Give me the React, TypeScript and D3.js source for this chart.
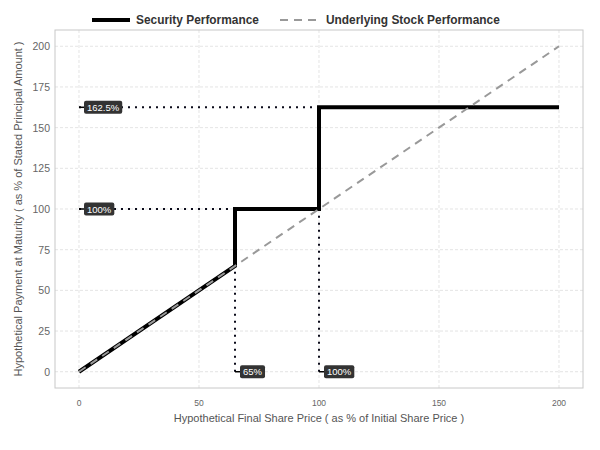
import { useEffect, useRef } from 'react'
import * as d3 from 'd3'

// ── data ─────────────────────────────────────────────────────────────────────
const securityX = [0, 65, 65, 100, 100, 200]
const securityY = [0, 65, 100, 100, 162.5, 162.5]
const stockX = [0, 200]
const stockY = [0, 200]
const xTicks = [0, 50, 100, 150, 200]
const yTicks = [0, 25, 50, 75, 100, 125, 150, 175, 200]
// dotted guides: [x1, y1, x2, y2]
const guides: [number, number, number, number][] = [
  [0, 162.5, 100, 162.5],
  [0, 100, 65, 100],
  [65, 0, 65, 100],
  [100, 0, 100, 162.5],
]
const labelX = [0, 0, 65, 100]
const labelY = [162.5, 100, 0, 0]
const labelText = ['162.5%', '100%', '65%', '100%']

const W = 600, H = 450
const P = { left: 55, right: 583, top: 30, bottom: 388 }
const FONT = '"Liberation Sans", Arial, sans-serif'

export default function App() {
  const ref = useRef<SVGSVGElement>(null)

  useEffect(() => {
    if (!ref.current) return
    const svg = d3.select(ref.current)
    svg.selectAll('*').remove()

    const x = d3.scaleLinear().domain([-10, 210]).range([P.left, P.right])
    const y = d3.scaleLinear().domain([-10, 210]).range([P.bottom, P.top])

    svg.append('rect').attr('width', W).attr('height', H).attr('fill', '#fff')

    // ── grid ──────────────────────────────────────────────────────────────
    const grid = svg.append('g')
    grid.selectAll('line.v').data(xTicks).join('line')
      .attr('x1', d => x(d)).attr('x2', d => x(d))
      .attr('y1', P.top).attr('y2', P.bottom)
      .attr('stroke', '#d8d8d8').attr('stroke-dasharray', '3,2').attr('stroke-width', 0.7)
    grid.selectAll('line.h').data(yTicks).join('line')
      .attr('y1', d => y(d)).attr('y2', d => y(d))
      .attr('x1', P.left).attr('x2', P.right)
      .attr('stroke', '#d8d8d8').attr('stroke-dasharray', '3,2').attr('stroke-width', 0.7)

    svg.append('rect')
      .attr('x', P.left).attr('y', P.top)
      .attr('width', P.right - P.left).attr('height', P.bottom - P.top)
      .attr('fill', 'none').attr('stroke', '#c8c8c8').attr('stroke-width', 1)

    // ── dotted guides ─────────────────────────────────────────────────────
    svg.append('g').selectAll('line').data(guides).join('line')
      .attr('x1', d => x(d[0])).attr('y1', d => y(d[1]))
      .attr('x2', d => x(d[2])).attr('y2', d => y(d[3]))
      .attr('stroke', '#0b0b1a').attr('stroke-width', 2)
      .attr('stroke-dasharray', '2,5')

    // ── lines ─────────────────────────────────────────────────────────────
    const line = d3.line<number>().x(i => x(securityX[i])).y(i => y(securityY[i]))
    svg.append('path').datum(d3.range(securityX.length))
      .attr('d', line).attr('fill', 'none').attr('stroke', '#000')
      .attr('stroke-width', 4).attr('stroke-linejoin', 'miter')

    const sline = d3.line<number>().x(i => x(stockX[i])).y(i => y(stockY[i]))
    svg.append('path').datum(d3.range(stockX.length))
      .attr('d', sline).attr('fill', 'none').attr('stroke', '#999')
      .attr('stroke-width', 2).attr('stroke-dasharray', '8,6')

    // ── labels ────────────────────────────────────────────────────────────
    labelText.forEach((t, i) => {
      const px = x(labelX[i]), py = y(labelY[i])
      const g = svg.append('g')
      g.append('line').attr('x1', px).attr('x2', px + 6).attr('y1', py).attr('y2', py)
        .attr('stroke', '#000').attr('stroke-width', 1.5)
      const tx = g.append('text')
        .attr('x', px + 8).attr('y', py + 3.5)
        .attr('font-family', FONT).attr('font-size', 9.5).attr('fill', '#fff')
        .text(t)
      const w = (tx.node() as SVGTextElement).getComputedTextLength()
      g.insert('rect', 'text')
        .attr('x', px + 5).attr('y', py - 6.5)
        .attr('width', w + 6).attr('height', 13).attr('rx', 2)
        .attr('fill', '#333')
    })

    // ── axes text ─────────────────────────────────────────────────────────
    svg.append('g').selectAll('text').data(xTicks).join('text')
      .attr('x', d => x(d)).attr('y', 406).attr('text-anchor', 'middle')
      .attr('font-family', FONT).attr('font-size', 8.5).attr('fill', '#666')
      .text(d => d)
    svg.append('g').selectAll('text').data(yTicks).join('text')
      .attr('x', 50).attr('y', d => y(d) + 4).attr('text-anchor', 'end')
      .attr('font-family', FONT).attr('font-size', 10.5).attr('fill', '#666')
      .text(d => d)

    svg.append('text')
      .attr('x', (P.left + P.right) / 2).attr('y', 422).attr('text-anchor', 'middle')
      .attr('font-family', FONT).attr('font-size', 11).attr('fill', '#555')
      .text('Hypothetical Final Share Price ( as % of Initial Share Price )')
    svg.append('text')
      .attr('transform', `translate(22,${(P.top + P.bottom) / 2}) rotate(-90)`)
      .attr('text-anchor', 'middle')
      .attr('font-family', FONT).attr('font-size', 11).attr('fill', '#555')
      .text('Hypothetical Payment at Maturity ( as % of Stated Principal Amount )')

    // ── legend ────────────────────────────────────────────────────────────
    const lg = svg.append('g')
    lg.append('line').attr('x1', 92).attr('x2', 130).attr('y1', 20).attr('y2', 20)
      .attr('stroke', '#000').attr('stroke-width', 4)
    lg.append('text').attr('x', 136).attr('y', 24)
      .attr('font-family', FONT).attr('font-size', 11.9).attr('font-weight', 'bold').attr('fill', '#333')
      .text('Security Performance')
    lg.append('line').attr('x1', 280).attr('x2', 317).attr('y1', 20).attr('y2', 20)
      .attr('stroke', '#999').attr('stroke-width', 2).attr('stroke-dasharray', '8,6')
    lg.append('text').attr('x', 326).attr('y', 24)
      .attr('font-family', FONT).attr('font-size', 11.9).attr('font-weight', 'bold').attr('fill', '#333')
      .text('Underlying Stock Performance')
  }, [])

  return (
    <svg ref={ref} width={W} height={H}
      style={{ position: 'absolute', left: 0, top: 0, display: 'block' }} />
  )
}
